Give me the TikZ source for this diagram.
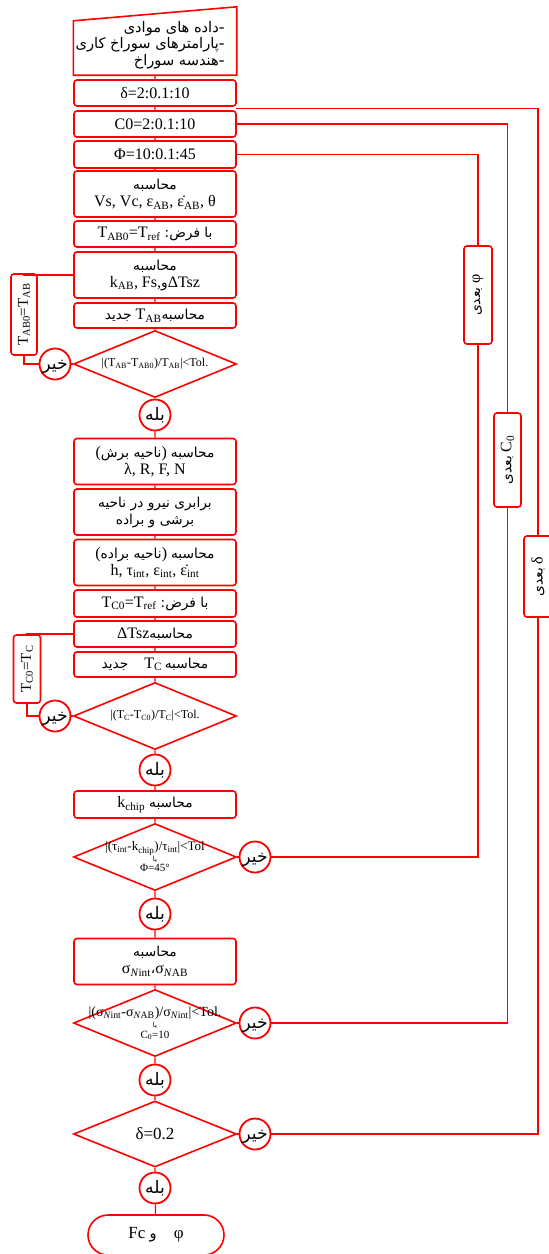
\documentclass[tikz,border=0pt]{standalone}
\usepackage{fontspec}
\setmainfont{Liberation Serif}
\newfontfamily\fa[Script=Arabic,Scale=0.86]{DejaVu Sans}
\TeXXeTstate=1
\usetikzlibrary{shapes.geometric}
\definecolor{flowred}{HTML}{FF0000}
\newcommand{\rl}[1]{{\fa\beginR #1\endR}}

\tikzset{
  flow/.style={draw=flowred, line width=1.2pt},
  box/.style={draw=flowred, line width=1.6pt, rounded corners=3pt, minimum width=162pt, minimum height=26pt, align=center, inner sep=1pt, font=\fontsize{16}{17}\selectfont},
  tallbox/.style={box, minimum height=46pt},
  decision/.style={diamond, draw=flowred, line width=1.6pt, minimum width=163pt, minimum height=67pt, inner sep=0pt},
  condtext/.style={align=center, inner sep=0pt, font=\fontsize{12}{12}\selectfont},
  answer/.style={circle, draw=flowred, line width=1.8pt, minimum size=31pt, inner sep=0pt, text height=10pt, text depth=0pt, font=\fontsize{20}{20}\selectfont},
  loopbox/.style={draw=flowred, line width=1.6pt, rounded corners=3pt, rotate=90, inner sep=1pt, align=center}
}

\begin{document}
\begin{tikzpicture}[x=1pt,y=-1pt]
\useasboundingbox (0,0) rectangle (549,1254);

% main column
\node[minimum width=163pt, minimum height=68pt] (inputs) at (155,41) {};
\draw[flowred, line width=1.6pt] (inputs.south west) -- (inputs.south east) -- (inputs.north east) -- ([yshift=-14pt]inputs.north west) -- cycle;
\node[anchor=east, align=right, font=\fontsize{17}{16.5}\selectfont] (inputtxt) at (228,45) {\rl{داده های موادی}-\\ \rl{پارامترهای سوراخ کاری}-\\ \rl{هندسه سوراخ}-};

\node[box] (delta) at (155,93) {δ=2:0.1:10};
\node[box] (c0) at (155,124) {C0=2:0.1:10};
\node[box, minimum height=27pt] (phi) at (155,154.5) {Φ=10:0.1:45};
\node[tallbox] (calcV) at (155,194) {\rl{محاسبه}\\Vs, Vc, ε\textsubscript{AB}, ε̇\textsubscript{AB}, θ};
\node[box] (assume1) at (155,234) {T\textsubscript{AB0}=T\textsubscript{ref} \rl{با فرض:}};
\node[tallbox] (calcK) at (155,275) {\rl{محاسبه}\\k\textsubscript{AB}, Fs,{\fa و}ΔTsz};
\node[box, minimum height=25pt] (newTAB) at (155,315.5) {\rl{جدید} T\textsubscript{AB}\rl{محاسبه}};
\node[decision] (dia1) at (155,364) {};
\node[condtext] (cond1) at (dia1) {|(T\textsubscript{AB}-T\textsubscript{AB0})/T\textsubscript{AB}|<Tol.};
\node[answer] (yes1) at (155,415) {\rl{بله}};
\node[tallbox] (calcShear) at (155,461.5) {(\rl{ناحیه برش}) \rl{محاسبه}\\λ, R, F, N};
\node[tallbox] (balance) at (155,512) {\rl{برابری نیرو در ناحیه}\\\rl{برشی و براده}};
\node[tallbox] (calcChip) at (155,562.5) {(\rl{ناحیه براده}) \rl{محاسبه}\\h, τ\textsubscript{int}, ε\textsubscript{int}, ε̇\textsubscript{int}};
\node[box, minimum height=27pt] (assume2) at (155,603.5) {T\textsubscript{C0}=T\textsubscript{ref} \rl{با فرض:}};
\node[box] (calcTsz) at (155,634) {ΔTsz\rl{محاسبه}};
\node[box, minimum height=25pt] (newTC) at (155,664.5) {\rl{جدید}\quad T\textsubscript{C}\,\rl{محاسبه}};
\node[decision] (dia2) at (155,716) {};
\node[condtext] (cond2) at (dia2) {|(T\textsubscript{C}-T\textsubscript{C0})/T\textsubscript{C}|<Tol.};
\node[answer] (yes2) at (155,770) {\rl{بله}};
\node[box, minimum height=27pt] (kchip) at (155,804.5) {k\textsubscript{chip} \rl{محاسبه}};
\node[decision] (dia3) at (155,857) {};
\node[condtext, font=\fontsize{13}{10.5}\selectfont] (cond3) at (dia3) {|(τ\textsubscript{int}-k\textsubscript{chip})/τ\textsubscript{int}|<Tol\\{\fa\fontsize{8}{8}\selectfont\beginR یا\endR}\\{\fontsize{11}{11}\selectfont Φ=45°}};
\node[answer] (yes3) at (155,914) {\rl{بله}};
\node[tallbox] (sigma) at (155,961.5) {\rl{محاسبه}\\σ\textsubscript{\textit{N}int}{\fa ،}σ\textsubscript{\textit{N}AB}};
\node[decision] (dia4) at (155,1023) {};
\node[condtext, font=\fontsize{14}{11}\selectfont] (cond4) at (dia4) {|(σ\textsubscript{\textit{N}int}-σ\textsubscript{\textit{N}AB})/σ\textsubscript{\textit{N}int}|<Tol.\\{\fa\fontsize{8}{8}\selectfont\beginR یا\endR}\\{\fontsize{11}{11}\selectfont C\textsubscript{0}=10}};
\node[answer] (yes4) at (155,1080) {\rl{بله}};
\node[decision, minimum height=66pt] (dia5) at (155,1134) {};
\node[condtext, font=\fontsize{17}{17}\selectfont] (cond5) at (dia5) {δ=0.2};
\node[answer] (yes5) at (155,1188) {\rl{بله}};
\node[draw=flowred, line width=1.6pt, rounded corners=20pt, minimum width=136pt, minimum height=40pt, font=\fontsize{17}{17}\selectfont] (final) at (156,1235) {Fc {\fa و}\quad φ};

% "no" answers
\node[answer] (no1) at (55,364) {\rl{خیر}};
\node[answer] (no2) at (55,716) {\rl{خیر}};
\node[answer] (no3) at (255,857) {\rl{خیر}};
\node[answer] (no4) at (255,1023) {\rl{خیر}};
\node[answer] (no5) at (255,1134) {\rl{خیر}};

% update and next-value boxes
\node[loopbox, minimum width=81pt, minimum height=26pt, font=\fontsize{15}{15}\selectfont] (upd1) at (24,314.5) {T\textsubscript{AB0}=T\textsubscript{AB}};
\node[loopbox, minimum width=68pt, minimum height=27pt, font=\fontsize{15}{15}\selectfont] (upd2) at (27,669) {T\textsubscript{C0}=T\textsubscript{C}};
\node[loopbox, minimum width=98pt, minimum height=28pt, font=\fontsize{16}{16}\selectfont] (nextPhi) at (478,295) {\rl{بعدی} φ};
\node[loopbox, minimum width=94pt, minimum height=27pt, font=\fontsize{16}{16}\selectfont] (nextC) at (507.5,460) {\rl{بعدی} C\textsubscript{0}};
\node[loopbox, minimum width=81pt, minimum height=28pt, font=\fontsize{16}{16}\selectfont] (nextD) at (538,576.5) {\rl{بعدی} δ};
\coordinate (dj) at (236,108.5);

% connectors
\draw[flow] (inputs) -- (delta) (delta) -- (c0) (c0) -- (phi) (phi) -- (calcV)
  (calcV) -- (assume1) (assume1) -- (calcK) (calcK) -- (newTAB) (newTAB) -- (dia1)
  (dia1) -- (yes1) (yes1) -- (calcShear) (calcShear) -- (balance) (balance) -- (calcChip)
  (calcChip) -- (assume2) (assume2) -- (calcTsz) (calcTsz) -- (newTC) (newTC) -- (dia2)
  (dia2) -- (yes2) (yes2) -- (kchip) (kchip) -- (dia3) (dia3) -- (yes3) (yes3) -- (sigma)
  (sigma) -- (dia4) (dia4) -- (yes4) (yes4) -- (dia5) (dia5) -- (yes5) (yes5) -- (final);
\draw[flow] (dia1) -- (no1) (no1) -| (upd1) (upd1) |- (calcK);
\draw[flow] (dia2) -- (no2) (no2) -| (upd2) (upd2) |- (calcTsz);
\draw[flow] (dia3) -- (no3) (no3) -| (nextPhi) (nextPhi) |- (phi);
\draw[flow] (dia4) -- (no4) (no4) -| (nextC) (nextC) |- (c0);
\draw[flow] (dia5) -- (no5) (no5) -| (nextD) (nextD) |- (dj);
\end{tikzpicture}
\end{document}
